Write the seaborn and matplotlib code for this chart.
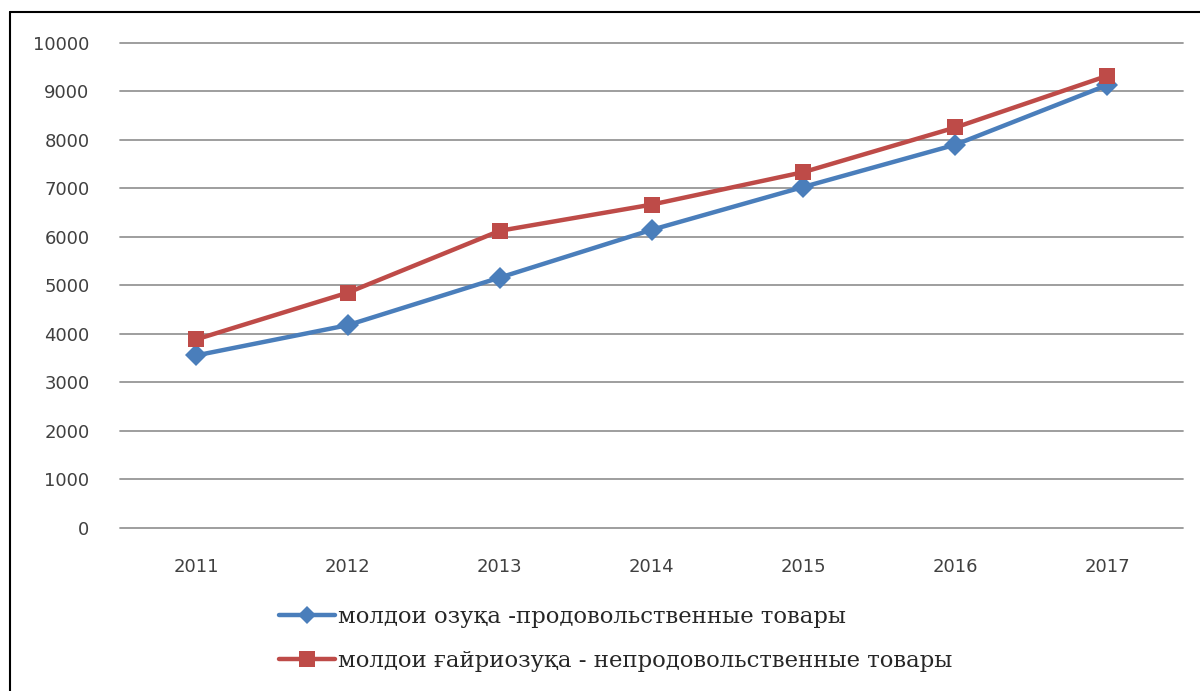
import pandas as pd
import matplotlib.pyplot as plt
import matplotlib.lines as mlines
import seaborn as sns

years = ["2011", "2012", "2013", "2014", "2015", "2016", "2017"]
food = [3555, 4180, 5160, 6145, 7030, 7900, 9130]
nonfood = [3885, 4850, 6125, 6665, 7335, 8255, 9320]
label_food = "молдои озуқа -продовольственные товары"
label_nonfood = "молдои ғайриозуқа - непродовольственные товары"
yticks = [0, 1000, 2000, 3000, 4000, 5000, 6000, 7000, 8000, 9000, 10000]

blue = "#4a7ebb"
red = "#be4b48"

df = pd.DataFrame({
    "year": years * 2,
    "value": food + nonfood,
    "series": [label_food] * len(years) + [label_nonfood] * len(years),
})

sns.set_style("white")
plt.rcParams["font.family"] = ["DejaVu Sans"]

fig = plt.figure(figsize=(12, 6.91), dpi=100)
ax = fig.add_axes([0.1, 0.236, 0.886, 0.702])

sns.lineplot(
    data=df, x="year", y="value", hue="series", style="series",
    markers={label_food: "D", label_nonfood: "s"}, dashes=False,
    palette={label_food: blue, label_nonfood: red},
    linewidth=3.2, markersize=11, markeredgewidth=0, ax=ax, legend=False,
)

ax.set_ylim(0, 10000)
ax.set_xlim(-0.5, len(years) - 0.5)
ax.set_yticks(yticks)
ax.yaxis.grid(True, color="#969696", linewidth=1.3)
for gl in ax.get_ygridlines():
    gl.set_clip_on(False)
ax.set_axisbelow(True)
for s in ax.spines.values():
    s.set_visible(False)
ax.tick_params(axis="both", length=0, labelsize=13, labelcolor="#404040")
ax.tick_params(axis="y", pad=22)
ax.tick_params(axis="x", pad=22)
ax.set_xlabel("")
ax.set_ylabel("")

# legend below the plot
h_food = mlines.Line2D([], [], color=blue, lw=3.2, marker="D", markersize=9,
                       markeredgewidth=0)
h_nonfood = mlines.Line2D([], [], color=red, lw=3.2, marker="s", markersize=12,
                          markeredgewidth=0)
fig.legend([h_food, h_nonfood], [label_food, label_nonfood],
           loc="upper left", bbox_to_anchor=(0.215, 0.152),
           frameon=False, handlelength=2.5, handletextpad=0.1,
           labelspacing=0.95,
           prop={"family": ["DejaVu Serif"], "size": 16.4})

# outer frame (left and top edges visible)
fig.add_artist(mlines.Line2D([0.0085, 0.0085], [0, 0.983], color="black",
                             lw=1.5, transform=fig.transFigure))
fig.add_artist(mlines.Line2D([0.0085, 1], [0.983, 0.983], color="black",
                             lw=1.5, transform=fig.transFigure))

fig.savefig("out.png", dpi=100)
